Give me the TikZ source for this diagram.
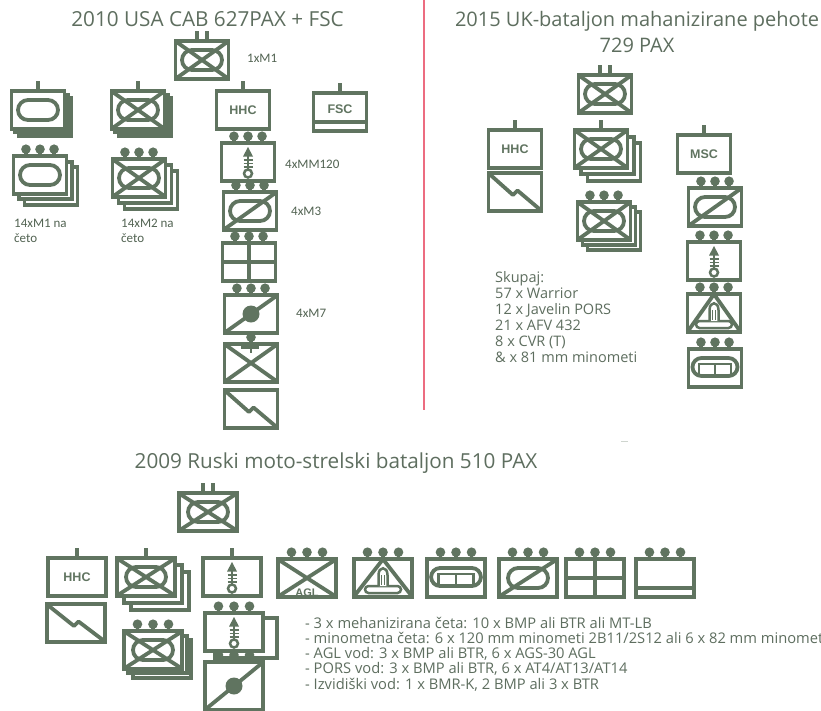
\documentclass[tikz,border=0pt]{standalone}
\usepackage{fontspec}
\setmainfont{Open Sans}
\newfontfamily\lblfont{Carlito}
\newfontfamily\boxfont{Liberation Sans}
\definecolor{armygreen}{RGB}{96,116,96}
\definecolor{titlegray}{RGB}{94,110,95}
\definecolor{divred}{RGB}{236,108,128}

\begin{document}
\begin{tikzpicture}[x=1pt, y=-1pt,
    sym/.style = {draw=armygreen, line width=3.8pt},
    thinsym/.style = {draw=armygreen, line width=2.5pt},
    title/.style = {text=titlegray, font=\fontsize{20.7}{26}\selectfont, anchor=base, align=center},
    notes/.style = {text=titlegray, font=\fontsize{14.5}{16}\selectfont, anchor=base west, align=left, inner sep=0pt},
    unitlbl/.style = {text=armygreen!85!black, font=\lblfont\fontsize{13}{15}\selectfont, anchor=base west, align=left, inner sep=0pt},
    boxtxt/.style = {text=armygreen, font=\boxfont\bfseries\fontsize{12.5}{14}\selectfont, inner sep=0pt},
    % frames and echelon marks
    pics/frame/.style = {code={\draw[sym,fill=white] (-\fw,-\fh) rectangle (\fw,\fh);}},
    pics/stack/.style = {code={
        \draw[sym,fill=white] (-\fw+2*#1,-\fh+2*#1) rectangle (\fw+2*#1,\fh+2*#1);
        \draw[sym,fill=white] (-\fw+#1,-\fh+#1) rectangle (\fw+#1,\fh+#1);}},
    pics/coy/.style = {code={\draw[sym] (0,-\fh) -- (0,-\fh-10);}},
    pics/bn/.style = {code={\draw[sym] (-5,-\fh) -- (-5,-\fh-10) (5,-\fh) -- (5,-\fh-10);}},
    pics/plt/.style = {code={\foreach \u in {-1,0,1} {
        \draw[sym] (\u*0.53*\fw,-\fh) -- (\u*0.53*\fw,-\fh-6);
        \fill[armygreen] (\u*0.53*\fw,-\fh-7) circle [radius=4.8];}}},
    pics/sqd/.style = {code={\draw[sym] (0,-\fh) -- (0,-\fh-6);
        \fill[armygreen] (0,-\fh-7) circle [radius=4.8];}},
    % unit signs
    pics/armd/.style = {code={\draw[sym,rounded corners=10pt] (-20,-10) rectangle (20,10);}},
    pics/cross/.style = {code={\draw[sym] (-\fw,-\fh) -- (\fw,\fh) (-\fw,\fh) -- (\fw,-\fh);}},
    pics/diag/.style = {code={\draw[sym] (-\fw,\fh) -- (\fw,-\fh);}},
    pics/grid/.style = {code={\draw[sym] (0,-\fh) -- (0,\fh) (-\fw,0) -- (\fw,0);}},
    pics/spt/.style = {code={\draw[sym] (-\fw,\fh-9) -- (\fw,\fh-9);}},
    pics/fist/.style = {code={\fill[armygreen] (0,0) circle [radius=8.5];}},
    pics/sig/.style = {code={\draw[sym,line join=round] (-\fw,-\fh) -- (-2,3) -- (2.5,-1.5) -- (\fw,\fh);}},
    pics/xbar/.style = {code={\draw[sym] (-10,-\fh+3) -- (8,-\fh+3);
        \draw[thinsym] (0,-\fh+3) -- (0,-\fh+9);}},
    pics/mortar/.style = {code={
        \draw[thinsym] (0,-9) -- (0,8);
        \fill[armygreen] (0,-15) -- (-5,-5.5) -- (5,-5.5) -- cycle;
        \foreach \v in {-2,1.5,5} \draw[armygreen,line width=1.8pt] (-4.5,\v) -- (4.5,\v);
        \draw[thinsym,fill=white] (0,11.5) circle [radius=4];}},
    pics/at/.style = {code={
        \draw[sym,line join=round] (-\fw,\fh) -- (0,-\fh) -- (\fw,\fh);
        \draw[thinsym,fill=white,rounded corners=3.5pt] (-18,8) rectangle (18,15);
        \draw[thinsym,fill=white] (-4.5,8) -- (-4.5,-3) .. controls (-4.5,-12) and (4.5,-12) .. (4.5,-3) -- (4.5,8);
        \draw[armygreen,line width=1.1pt] (-1.3,-3) -- (-1.3,7) (1.3,-3) -- (1.3,7);}},
    pics/ovalt/.style = {code={
        \draw[sym,rounded corners=9pt] (-0.85*\fw,-10) rectangle (0.85*\fw,8);
        \draw[thinsym] (-0.6*\fw,8) -- (-0.6*\fw,-4) -- (0.6*\fw,-4) -- (0.6*\fw,8) (0,-4) -- (0,8);}}
    ]
\useasboundingbox[fill=white] (0,0) rectangle (821,710);

% divider
\draw[divred, line width=2pt] (424,0) -- (424,410);
\draw[armygreen!30, line width=1pt] (621,441) -- (628,441);

% ---- 2010 USA CAB
\node[title] (usatitle) at (207.5,26) {2010 USA CAB 627PAX + FSC};
\def\fw{26.5}
\def\fh{18.8}
\path (202,60) pic {frame} pic {cross} pic {armd} pic {bn};
\path (38,110) pic {stack=3.5} pic {frame} pic {armd} pic {coy};
\path (138,110) pic {stack=3.5} pic {frame} pic {cross} pic {armd} pic {coy};
\path (243,110) pic {frame} pic {coy};
\node[boxtxt] (usahhc) at (243,110) {HHC};
\path (340,112) pic {frame} pic {spt} pic {coy};
\node[boxtxt] (usafsc) at (340,109) {FSC};
\path (40,175) pic {stack=5.5} pic {frame} pic {armd} pic {plt};
\path (139,178) pic {stack=6} pic {frame} pic {cross} pic {armd} pic {plt};
\path (248,162) pic {frame} pic {mortar} pic {plt};
\path (250,211) pic {frame} pic {diag} pic {armd} pic {plt};
\path (249,262) pic {frame} pic {grid} pic {plt};
\path (251,314) pic {frame} pic {diag} pic {fist} pic {plt};
\path (251,363) pic {frame} pic {cross} pic {xbar} pic {sqd};
\path (251,409) pic {frame} pic {sig};
\node[unitlbl] (lm1) at (247,62) {1xM1};
\node[unitlbl] (lmm) at (285,168) {4xMM120};
\node[unitlbl] (lm3) at (291,215) {4xM3};
\node[unitlbl] (lm7) at (296,317) {4xM7};
\node[unitlbl] (lta) at (14,242) {14xM1 na\\četo};
\node[unitlbl] (lif) at (121,242) {14xM2 na\\četo};

% ---- 2015 UK
\node[title, font=\fontsize{20}{26}\selectfont] (uktitle) at (637,52) {2015 UK-bataljon mahanizirane pehote\\729 PAX};
\path (605,94) pic {frame} pic {cross} pic {armd} pic {bn};
\path (515,149) pic {frame} pic {coy};
\node[boxtxt] (ukhhc) at (515,149) {HHC};
\path (515,192) pic {frame} pic {sig};
\path (601,149) pic {stack=6.5} pic {frame} pic {cross} pic {armd} pic {coy};
\path (604,221) pic {stack=5} pic {frame} pic {cross} pic {armd} pic {plt};
\path (704,154) pic {frame} pic {coy};
\node[boxtxt] (ukmsc) at (704,154) {MSC};
\path (715,207) pic {frame} pic {diag} pic {armd} pic {plt};
\path (714,261) pic {frame} pic {mortar} pic {plt};
\path (714,313) pic {frame} pic {at} pic {plt};
\path (715,368) pic {frame} pic {ovalt} pic {plt};
\node[notes] (uksum) at (495,362) {Skupaj:\\57 x Warrior\\12 x Javelin PORS\\21 x AFV 432\\8 x CVR (T)\\\& x 81 mm minometi};

% ---- 2009 RU
\node[title] (rutitle) at (336,468) {2009 Ruski moto-strelski bataljon 510 PAX};
\def\fw{29.3}
\path (208,512) pic {frame} pic {cross} pic {armd} pic {bn};
\path (77,577) pic {frame} pic {coy};
\node[boxtxt] (ruhhc) at (77,577) {HHC};
\path (76,623) pic {frame} pic {sig};
\path (146,577) pic {stack=7} pic {frame} pic {cross} pic {armd} pic {coy};
\path (153,650) pic {stack=4.5} pic {frame} pic {cross} pic {armd} pic {plt};
\path (232,577) pic {frame} pic {mortar} pic {coy};
\draw[sym,fill=white] (215,618) rectangle (277,658);
\path (234,632) pic {frame} pic {mortar} pic {plt};
\path (307,578) pic {frame} pic {cross} pic {plt};
\node[boxtxt, font=\boxfont\bfseries\fontsize{11}{12}\selectfont, anchor=south] (ruagl) at (307,597) {AGL};
\path (383,578) pic {frame} pic {at} pic {plt};
\path (456,578) pic {frame} pic {ovalt} pic {plt};
\path (528,578) pic {frame} pic {diag} pic {armd} pic {plt};
\path (595,578) pic {frame} pic {grid} pic {plt};
\path (665,578) pic {frame} pic {spt} pic {plt};
\begin{scope}
  \def\fh{24}
  \path (234,686) pic {frame} pic {diag} pic {fist} pic {plt};
\end{scope}
\node[notes, font=\fontsize{14.7}{15.3}\selectfont] (rulist) at (305,689.2) {- 3 x mehanizirana četa: 10 x BMP ali BTR ali MT-LB\\- minometna četa: 6 x 120 mm minometi 2B11/2S12 ali 6 x 82 mm minometi\\- AGL vod: 3 x BMP ali BTR, 6 x AGS-30 AGL\\- PORS vod: 3 x BMP ali BTR, 6 x AT4/AT13/AT14\\- Izvidiški vod: 1 x BMR-K, 2 BMP ali 3 x BTR};
\end{tikzpicture}
\end{document}
